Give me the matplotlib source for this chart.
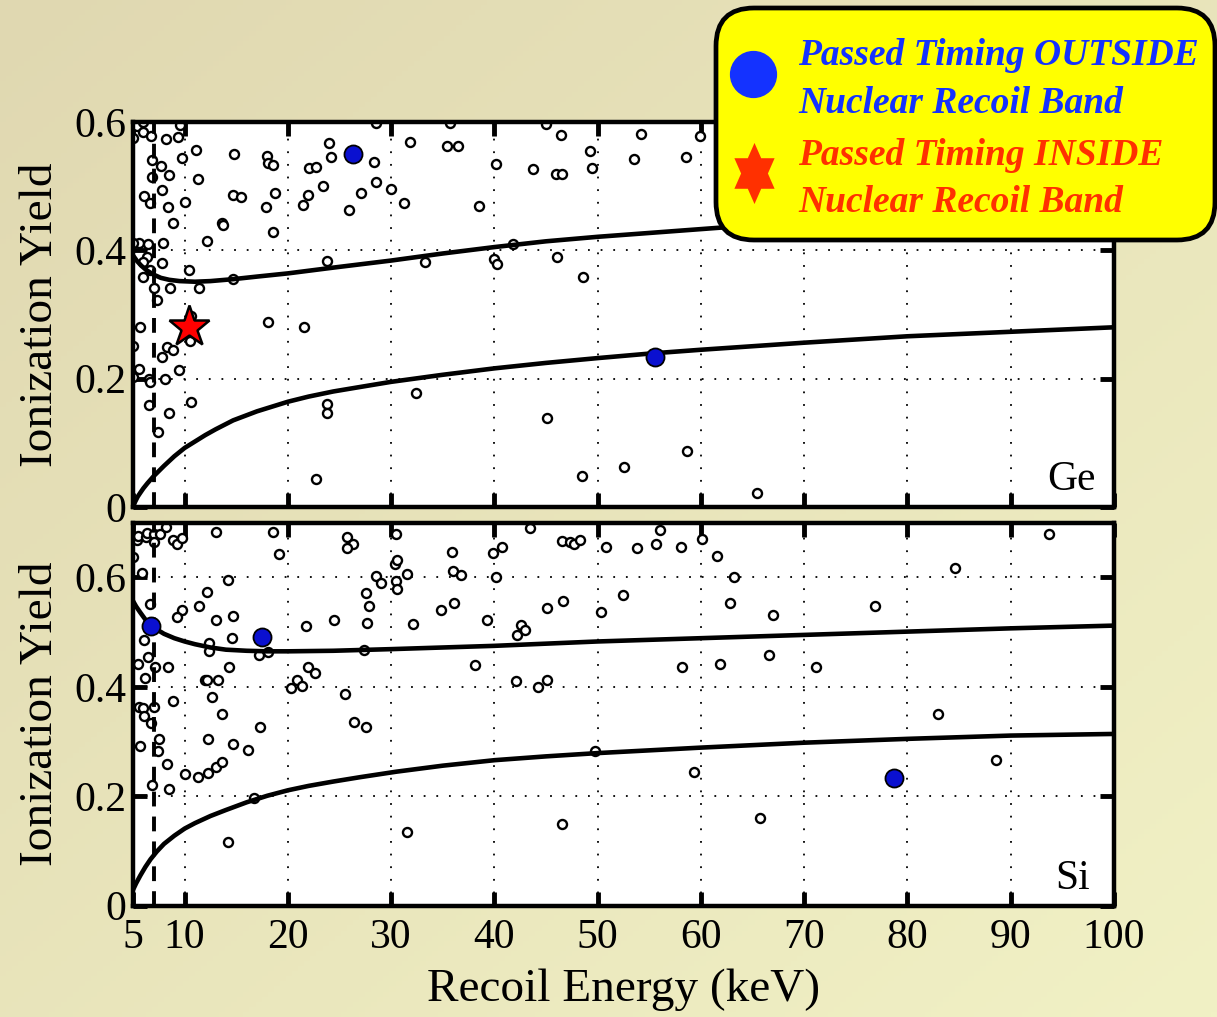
import numpy as np
import matplotlib
matplotlib.use('Agg')
import matplotlib.pyplot as plt
from matplotlib.patches import FancyBboxPatch

plt.rcParams['font.family'] = ['Liberation Serif', 'DejaVu Serif']

# ---------------- data ----------------
x_ticks = [5, 10, 20, 30, 40, 50, 60, 70, 80, 90, 100]
x_ticklabels = ['5', '10', '20', '30', '40', '50', '60', '70', '80', '90', '100']
y_ticks = [0, 0.2, 0.4, 0.6]
y_ticklabels = ['0', '0.2', '0.4', '0.6']
threshold_kev = 7.0

# Ge nuclear recoil band edges
ge_band_hi_x = [5.0, 5.4, 5.8, 6.3, 7.0, 7.7, 8.5, 9.5, 11.0, 12.5, 14.7, 17.0, 20.0, 24.4, 30.0,
                35.0, 40.0, 45.0, 50.0, 55.0, 60.0, 65.0, 70.0, 80.0, 90.0, 100.0]
ge_band_hi_y = [0.392, 0.383, 0.376, 0.369, 0.362, 0.357, 0.354, 0.352, 0.351, 0.352, 0.355, 0.359, 0.364, 0.373, 0.384,
                0.395, 0.405, 0.414, 0.421, 0.427, 0.433, 0.439, 0.445, 0.455, 0.463, 0.470]
ge_band_lo_x = [5.0, 5.2, 5.45, 5.7, 6.0, 6.4, 7.0, 7.5, 8.0, 9.0, 10.0, 11.0, 12.0, 13.0, 14.7, 17.0,
                20.0, 22.0, 24.4, 27.0, 30.0, 35.0, 40.0, 45.0, 50.0, 55.0, 60.0, 70.0, 80.0, 90.0, 100.0]
ge_band_lo_y = [0.0, 0.008, 0.016, 0.022, 0.029, 0.037, 0.048, 0.056, 0.064, 0.079, 0.092, 0.102, 0.112, 0.121, 0.135, 0.149,
                0.164, 0.172, 0.180, 0.187, 0.195, 0.206, 0.216, 0.2245, 0.232, 0.239, 0.245, 0.256, 0.266, 0.273, 0.280]

# Si nuclear recoil band edges
si_band_hi_x = [5.0, 5.3, 5.7, 6.2, 6.7, 7.3, 8.0, 9.0, 10.0, 11.0, 12.5, 14.0, 16.0, 18.0, 20.0, 24.4,
                30.0, 35.0, 40.0, 45.0, 50.0, 55.0, 60.0, 70.0, 80.0, 90.0, 100.0]
si_band_hi_y = [0.557, 0.547, 0.536, 0.523, 0.513, 0.505, 0.497, 0.489, 0.483, 0.478, 0.472, 0.468, 0.466, 0.465, 0.465, 0.466,
                0.469, 0.472, 0.475, 0.479, 0.483, 0.486, 0.489, 0.495, 0.501, 0.507, 0.512]
si_band_lo_x = [5.0, 5.3, 5.7, 6.2, 6.7, 7.3, 8.0, 9.0, 10.0, 11.0, 12.5, 14.0, 16.0, 18.0, 20.0, 22.0,
                24.4, 27.0, 30.5, 35.0, 40.0, 45.0, 50.0, 55.0, 60.0, 70.0, 80.0, 90.0, 100.0]
si_band_lo_y = [0.029, 0.041, 0.055, 0.071, 0.085, 0.099, 0.113, 0.128, 0.141, 0.151, 0.164, 0.175, 0.189, 0.201, 0.211, 0.219,
                0.227, 0.235, 0.245, 0.256, 0.266, 0.273, 0.279, 0.284, 0.289, 0.298, 0.305, 0.311, 0.314]

# Ge events (open circles)
ge_x = [5.0, 5.42, 5.94, 5.94, 6.71, 9.55, 9.39, 8.19, 6.87, 7.68, 8.48, 6.87, 9.71, 11.1, 7.77, 6.06,
        6.65, 8.35, 10.03, 11.26, 8.84, 13.65, 13.68, 12.13, 7.94, 5.61, 6.48, 5.03, 6.32, 6.0, 6.65,
        6.0, 7.84, 10.45, 7.03, 8.58, 11.35, 7.29, 14.71, 5.68, 10.58, 10.52, 8.26, 8.9, 7.77, 5.03,
        5.61, 4.97, 6.58, 6.65, 8.1, 9.48, 6.58, 8.52, 10.61, 7.45, 22.77, 18.1, 21.55, 23.74, 23.74,
        23.8, 24.0, 24.16, 22.06, 22.77, 23.42, 21.97, 21.48, 25.94, 27.06, 28.58, 28.35, 29.97, 28.52,
        14.77, 17.94, 18.1, 18.58, 14.65, 15.45, 18.74, 17.84, 18.52,
        31.26, 31.8, 35.45, 36.48, 35.68, 38.48, 40.19, 43.74, 45.97, 46.52, 45.03, 46.48, 49.23, 49.45,
        53.52, 54.23, 58.58, 59.87, 41.81, 33.32, 39.97, 40.29, 46.1, 48.58, 32.39, 45.13, 48.52, 52.55,
        58.65, 65.4]
ge_y = [0.575, 0.593, 0.600, 0.585, 0.578, 0.595, 0.576, 0.573, 0.540, 0.532, 0.518, 0.514, 0.544, 0.556, 0.494, 0.484,
        0.473, 0.468, 0.476, 0.511, 0.443, 0.443, 0.439, 0.414, 0.412, 0.412, 0.410, 0.412, 0.390, 0.381, 0.370,
        0.359, 0.380, 0.369, 0.341, 0.341, 0.341, 0.323, 0.356, 0.281, 0.297, 0.258, 0.250, 0.244, 0.233, 0.251,
        0.215, 0.202, 0.200, 0.195, 0.199, 0.213, 0.159, 0.147, 0.163, 0.117, 0.043, 0.289, 0.280, 0.384, 0.161,
        0.147, 0.567, 0.545, 0.528, 0.530, 0.500, 0.486, 0.471, 0.462, 0.489, 0.506, 0.537, 0.495, 0.598,
        0.550, 0.547, 0.536, 0.533, 0.486, 0.483, 0.489, 0.467, 0.429,
        0.474, 0.568, 0.563, 0.563, 0.599, 0.469, 0.534, 0.526, 0.519, 0.519, 0.597, 0.579, 0.555, 0.529,
        0.542, 0.581, 0.546, 0.578, 0.410, 0.382, 0.387, 0.379, 0.389, 0.358, 0.178, 0.139, 0.049, 0.062,
        0.087, 0.021]
ge_out_x = [26.26, 55.6]
ge_out_y = [0.550, 0.234]
ge_in_x = [10.42]
ge_in_y = [0.281]

# Si events (open circles)
si_x = [5.0, 5.42, 5.52, 6.26, 6.32, 7.06, 7.06, 7.61, 8.19, 8.84, 9.29, 9.71, 13.03, 18.52, 19.13, 5.9,
        14.16, 12.13, 11.42, 9.71, 9.23, 13.03, 14.65, 6.65, 6.1, 12.35, 12.35, 14.55, 17.23, 18.1, 5.45,
        6.48, 7.13, 8.35, 14.32, 6.16, 12.0, 12.2, 13.26, 8.84, 12.68, 5.58, 6.0, 6.06, 7.06, 6.74, 13.58,
        17.29, 7.52, 5.68, 7.45, 12.29, 14.71, 16.1, 8.26, 10.03, 11.26, 12.23, 13.0, 13.58, 6.87, 8.52,
        16.74, 14.16, 20.29, 20.9, 21.4, 21.97, 22.61, 21.8, 24.48, 25.52, 26.42, 27.61, 25.74, 26.32,
        25.74, 27.61, 27.87, 27.68, 28.52, 29.0, 27.35, 30.42, 30.6, 30.5, 30.6, 30.45,
        31.58, 32.13, 35.9, 36.0, 36.8, 36.06, 34.87, 39.32, 39.87, 40.77, 40.2, 43.42, 42.23, 42.55, 43.0,
        45.06, 46.61, 46.55, 47.35, 47.68, 48.32, 50.29, 50.84, 52.45, 53.84, 55.61, 56.06, 58.1, 60.13,
        61.58, 63.19, 62.77, 38.1, 42.13, 44.23, 45.1, 58.16, 61.81, 49.7, 59.32, 31.58, 46.58,
        66.97, 66.55, 71.19, 76.9, 84.65, 93.68, 83.0, 88.6, 65.68]
si_y = [0.637, 0.668, 0.676, 0.674, 0.682, 0.680, 0.665, 0.680, 0.692, 0.668, 0.661, 0.672, 0.683, 0.683, 0.642, 0.608,
        0.596, 0.573, 0.547, 0.540, 0.527, 0.523, 0.530, 0.551, 0.486, 0.481, 0.465, 0.490, 0.459, 0.463, 0.441,
        0.454, 0.437, 0.436, 0.437, 0.417, 0.413, 0.413, 0.413, 0.375, 0.382, 0.363, 0.362, 0.347, 0.363, 0.334, 0.351,
        0.326, 0.304, 0.292, 0.282, 0.304, 0.296, 0.284, 0.259, 0.241, 0.235, 0.243, 0.253, 0.262, 0.220, 0.214,
        0.196, 0.117, 0.398, 0.413, 0.402, 0.437, 0.425, 0.512, 0.523, 0.387, 0.335, 0.326, 0.674, 0.662,
        0.653, 0.571, 0.547, 0.516, 0.603, 0.589, 0.467, 0.624, 0.632, 0.594, 0.578, 0.680,
        0.607, 0.515, 0.647, 0.612, 0.605, 0.554, 0.541, 0.522, 0.644, 0.656, 0.600, 0.690, 0.495, 0.513, 0.504,
        0.545, 0.557, 0.666, 0.664, 0.662, 0.668, 0.537, 0.656, 0.568, 0.653, 0.662, 0.686, 0.656, 0.670,
        0.639, 0.601, 0.553, 0.440, 0.410, 0.399, 0.413, 0.436, 0.442, 0.283, 0.244, 0.134, 0.150,
        0.531, 0.458, 0.436, 0.548, 0.618, 0.680, 0.351, 0.266, 0.161]
si_out_x = [6.74, 17.52, 78.68]
si_out_y = [0.512, 0.492, 0.233]

legend_lines = ['Passed Timing OUTSIDE', 'Nuclear Recoil Band',
                'Passed Timing INSIDE', 'Nuclear Recoil Band']

blue = '#1432ff'
red = '#ff3000'

fig = plt.figure(figsize=(12.17, 10.17), dpi=100)

# beige gradient background
bg = fig.add_axes([0, 0, 1, 1], zorder=-10)
t = np.linspace(0, 1, 200)
gx, gy = np.meshgrid(t, t)
w = (gx + gy) / 2.0
c0 = np.array([224, 216, 177]) / 255.0
c1 = np.array([241, 241, 197]) / 255.0
img = c0[None, None, :] * (1 - w[..., None]) + c1[None, None, :] * w[..., None]
bg.imshow(img, extent=[0, 1, 0, 1], origin='upper', aspect='auto')
bg.axis('off')


def style_axes(ax, ymax, name, name_x):
    ax.set_xlim(5, 100)
    ax.set_ylim(0, ymax)
    ax.set_xticks(x_ticks)
    ax.set_xticklabels(x_ticklabels)
    ax.set_yticks(y_ticks)
    ax.set_yticklabels(y_ticklabels)
    ax.tick_params(direction='in', length=10, width=3.5, top=True, right=True,
                   labelsize=30, pad=5)
    ax.tick_params(axis='x', pad=9)
    for s in ax.spines.values():
        s.set_linewidth(3.2)
    ax.grid(True, color='k', linestyle=(0, (1, 6)), linewidth=1.3)
    ax.set_facecolor('white')
    ax.axvline(threshold_kev, color='k', lw=2.8, linestyle=(0, (3.8, 2.6)), zorder=2.5)
    ax.text(name_x, 0.045, name, transform=ax.transAxes, ha='right',
            va='baseline', fontsize=30)
    ax.set_ylabel('Ionization Yield', fontsize=34)
    ax.yaxis.set_label_coords(-0.072, 0.5)


ax_ge = fig.add_axes([0.1093, 0.5015, 0.806, 0.3786])
ax_si = fig.add_axes([0.1093, 0.1094, 0.806, 0.3766])

style_axes(ax_ge, 0.6, 'Ge', 0.981)
style_axes(ax_si, 0.7, 'Si', 0.975)
ax_ge.tick_params(labelbottom=False)
ax_si.set_xlabel('Recoil Energy (keV)', fontsize=34)
ax_si.xaxis.set_label_coords(0.5, -0.165)

circ = dict(ls='none', marker='o', ms=6.5, mfc='white', mec='k', mew=1.7, zorder=2)
dot = dict(ls='none', marker='o', ms=13, mfc='#0a10d0', mec='k', mew=1.3, zorder=4)

ax_ge.plot(ge_x, ge_y, **circ)
ax_ge.plot(ge_band_hi_x, ge_band_hi_y, color='k', lw=3.3, zorder=3)
ax_ge.plot(ge_band_lo_x, ge_band_lo_y, color='k', lw=3.3, zorder=3)
ax_ge.plot(ge_out_x, ge_out_y, **dot)
ax_ge.plot(ge_in_x, ge_in_y, ls='none', marker='*', ms=31, mfc='red', mec='k', mew=1.8, zorder=5)

ax_si.plot(si_x, si_y, **circ)
ax_si.plot(si_band_hi_x, si_band_hi_y, color='k', lw=3.3, zorder=3)
ax_si.plot(si_band_lo_x, si_band_lo_y, color='k', lw=3.3, zorder=3)
ax_si.plot(si_out_x, si_out_y, **dot)

# legend box overlay (pixel coordinates)
lax = fig.add_axes([0, 0, 1, 1], zorder=10)
lax.set_xlim(0, 1217)
lax.set_ylim(1017, 0)
lax.axis('off')
box = FancyBboxPatch((716, 8), 499, 232, boxstyle='round,pad=0,rounding_size=38',
                     fc='#ffff00', ec='k', lw=3.4)
lax.add_patch(box)
for txt, yb, col in zip(legend_lines, [65, 113, 165, 212], [blue, blue, red, red]):
    lax.text(798, yb, txt, color=col, fontsize=27, fontweight='bold', fontstyle='italic',
             va='baseline', ha='left')
lax.plot([753], [74], ls='none', marker='o', ms=33, color=blue)
ang_o = np.deg2rad(90 + 60 * np.arange(6))
ang_i = ang_o + np.deg2rad(30)
verts = []
for ao, ai in zip(ang_o, ang_i):
    verts.append((0.76 * np.cos(ao), np.sin(ao)))
    verts.append((0.76 * np.cos(ai) / np.sqrt(3), np.sin(ai) / np.sqrt(3)))
verts.append(verts[0])
lax.plot([754], [173], ls='none', marker=verts, ms=44, color=red, mew=0)

fig.savefig('out.png', dpi=100)
